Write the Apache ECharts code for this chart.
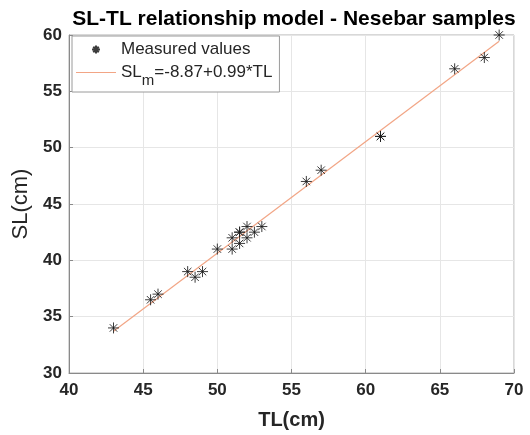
<!DOCTYPE html>
<html>
<head>
<meta charset="utf-8">
<script src="https://cdn.jsdelivr.net/npm/echarts@6/dist/echarts.min.js"></script>
<style>
  html, body { margin: 0; padding: 0; background: #fff; }
  #chart { width: 530px; height: 435px; }
</style>
</head>
<body>
<div id="chart"></div>
<script>
// measured samples (TL, SL)
const tlValues = [43, 45.5, 46, 48, 48.5, 49, 50, 51, 51, 51.5, 51.5, 51.5, 52, 52, 52.5, 53, 56, 57, 61, 61, 66, 68, 69];
const slValues = [34, 36.5, 37, 39, 38.5, 39, 41, 41, 42, 41.5, 42.5, 42.5, 42, 43, 42.5, 43, 47, 48, 51, 51, 57, 58, 60];

// fitted model line SLm = -8.87 + 0.99*TL, end points
const fitTL = [43, 69];
const fitSL = [33.7, 59.44];

const xTicks = [40, 45, 50, 55, 60, 65, 70];
const yTicks = [30, 35, 40, 45, 50, 55, 60];

const textColor = '#262626';
const starPath = 'path://M5 0L5 10M0 5L10 5M1.6 1.6L8.4 8.4M8.4 1.6L1.6 8.4';

const chart = echarts.init(document.getElementById('chart'));

const option = {
    backgroundColor: '#fff',
    animation: false,
    title: {
        text: 'SL-TL relationship model - Nesebar samples',
        left: 289,
        textAlign: 'center',
        top: 4,
        textStyle: {
            fontFamily: 'Liberation Sans',
            fontSize: 21,
            fontWeight: 'bold',
            color: '#000'
        }
    },
    legend: {
        orient: 'vertical',
        left: 72,
        top: 36,
        padding: [5, 7, 4, 4],
        itemGap: 6,
        itemWidth: 40,
        itemHeight: 8,
        backgroundColor: '#fff',
        borderColor: '#9a9a9a',
        borderWidth: 1,
        borderRadius: 0,
        textStyle: {
            fontFamily: 'Liberation Sans',
            fontSize: 17,
            color: textColor,
            rich: {
                a: { fontFamily: 'Liberation Sans', fontSize: 17, color: textColor },
                b: { fontFamily: 'Liberation Sans', fontSize: 15, color: textColor, padding: [16, 0, 0, 0] }
            }
        },
        formatter: function (name) {
            if (name === 'fit') return '{a|SL}{b|m}{a|=-8.87+0.99*TL}';
            return name;
        },
        data: [
            { name: 'Measured values' },
            { name: 'fit', icon: 'path://M0 0L40 0L40 1.2L0 1.2Z' }
        ]
    },
    grid: {
        left: 69,
        right: 16,
        top: 35,
        bottom: 60,
        show: true,
        borderColor: '#b0b0b0',
        borderWidth: 1
    },
    xAxis: {
        type: 'value',
        min: xTicks[0],
        max: xTicks[xTicks.length - 1],
        interval: 5,
        name: 'TL(cm)',
        nameLocation: 'middle',
        nameGap: 37,
        nameTextStyle: {
            fontFamily: 'Liberation Sans',
            fontSize: 20,
            fontWeight: 'bold',
            color: textColor
        },
        axisLine: { lineStyle: { color: '#8a8a8a', width: 1 } },
        axisTick: { inside: true, length: 4, lineStyle: { color: '#8a8a8a' } },
        axisLabel: {
            margin: 9,
            fontFamily: 'Liberation Sans',
            fontSize: 17,
            fontWeight: 'bold',
            color: textColor
        },
        splitLine: { lineStyle: { color: '#e6e6e6', width: 1 } }
    },
    yAxis: {
        type: 'value',
        min: yTicks[0],
        max: yTicks[yTicks.length - 1],
        interval: 5,
        name: 'SL(cm)',
        nameLocation: 'middle',
        nameGap: 35,
        nameTextStyle: {
            fontFamily: 'Liberation Sans',
            fontSize: 22,
            color: textColor
        },
        axisLine: { show: true, lineStyle: { color: '#8a8a8a', width: 1 } },
        axisTick: { show: true, inside: true, length: 4, lineStyle: { color: '#8a8a8a' } },
        axisLabel: {
            margin: 7,
            fontFamily: 'Liberation Sans',
            fontSize: 17,
            fontWeight: 'bold',
            color: textColor
        },
        splitLine: { lineStyle: { color: '#e6e6e6', width: 1 } }
    },
    series: [
        {
            name: 'fit',
            type: 'line',
            symbol: 'none',
            z: 2,
            lineStyle: { color: '#f2a585', width: 1.2 },
            itemStyle: { color: '#f2a585' },
            data: fitTL.map((t, i) => [t, fitSL[i]])
        },
        {
            name: 'Measured values',
            type: 'scatter',
            symbol: starPath,
            symbolSize: 11,
            z: 3,
            itemStyle: {
                color: 'none',
                borderColor: '#1a1a1a',
                borderWidth: 1,
                opacity: 0.85
            },
            data: tlValues.map((t, i) => [t, slValues[i]])
        }
    ]
};

chart.setOption(option);
</script>
</body>
</html>
